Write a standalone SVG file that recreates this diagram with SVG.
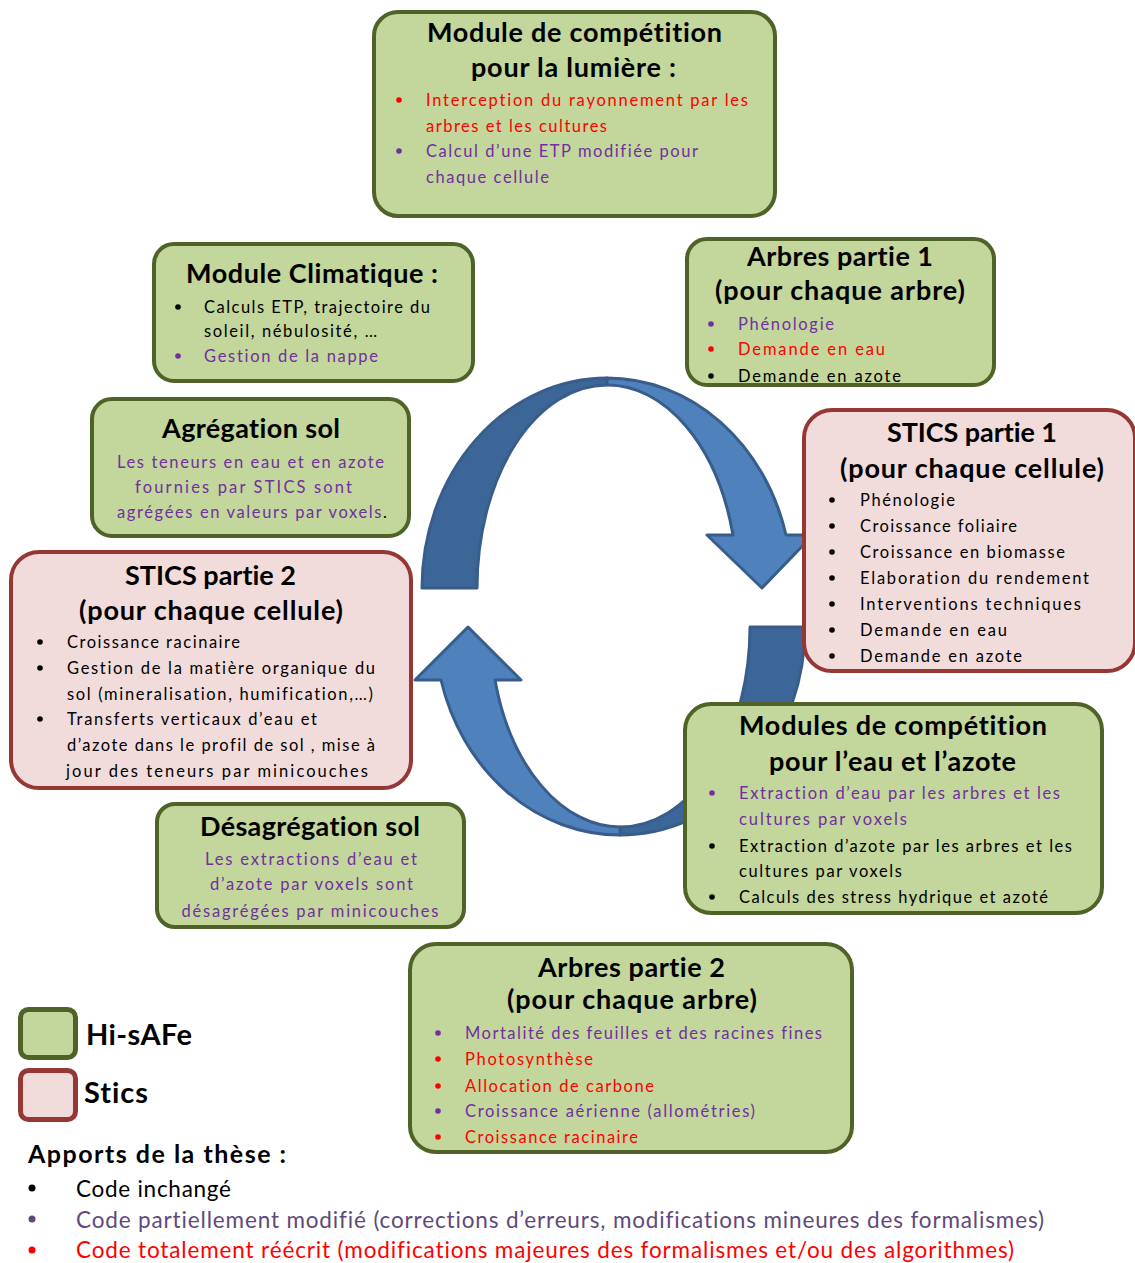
<svg xmlns="http://www.w3.org/2000/svg" width="1135" height="1263" viewBox="0 0 1135 1263">
<style>
text{font-variant-ligatures:none}
.g{fill:#c3d69b;stroke:#4f6228;stroke-width:4}
.s{fill:#f2dcdb;stroke:#953735;stroke-width:4}
.t{font-family:Lato,"Open Sans",sans-serif;font-weight:bold;font-size:27px;fill:#000;text-anchor:middle}
.b{font-family:Lato,"Open Sans",sans-serif;font-size:16.5px}
.c{text-anchor:middle}
.k{fill:#000}.p{fill:#7030a0}.r{fill:#ff0000}.q{fill:#5f497a}
.dk{fill:#3d6698;stroke:#385d8a;stroke-width:3;stroke-linejoin:round}
.lt{fill:#4f81bd;stroke:#385d8a;stroke-width:3;stroke-linejoin:round}
.L{font-family:Lato,"Open Sans",sans-serif;font-weight:bold;font-size:29px;fill:#000}
.A{font-family:Lato,"Open Sans",sans-serif;font-weight:bold;font-size:25px;fill:#000}
.Z{font-family:Lato,"Open Sans",sans-serif;font-size:22.5px}
</style>
<g id="connectors">
<path class="dk" d="M422,588 A185,210 0 0 1 607,378 L607,385 A130,203 0 0 0 477,588 Z"/>
<path class="lt" d="M607,378 A185,210 0 0 1 786,535 L813,535 L762,588 L707,535 L733,535 A130,203 0 0 0 607,385 Z"/>
<path class="dk" d="M805,627 A185,208 0 0 1 620,835 L620,827 A130,200 0 0 0 750,627 Z"/>
<path class="lt" d="M620,835 A185,208 0 0 1 441,680 L415,680 L468,627 L521,680 L495,680 A130,200 0 0 0 620,827 Z"/>
</g>
<g id="lumiere">
<rect class="g" x="374" y="12" width="401" height="204" rx="24"/>
<text class="t" x="574.5" y="42" textLength="295">Module de compétition</text>
<text class="t" x="573.5" y="77" textLength="205">pour la lumière :</text>
<circle class="r" cx="399" cy="100" r="2.8"/><circle class="p" cx="399" cy="151" r="2.8"/>
<text class="b r" x="426" y="106" textLength="322">Interception du rayonnement par les</text>
<text class="b r" x="426" y="132" textLength="181">arbres et les cultures</text>
<text class="b p" x="426" y="157" textLength="272">Calcul d’une ETP modifiée pour</text>
<text class="b p" x="426" y="183" textLength="123">chaque cellule</text>
</g>
<g id="climatique">
<rect class="g" x="154" y="244" width="319" height="137" rx="20"/>
<text class="t" x="312" y="283" textLength="252">Module Climatique :</text>
<circle class="k" cx="178" cy="307" r="2.8"/><circle class="p" cx="178" cy="356" r="2.8"/>
<text class="b k" x="204" y="313" textLength="226">Calculs ETP, trajectoire du</text>
<text class="b k" x="204" y="337" textLength="173">soleil, nébulosité, …</text>
<text class="b p" x="204" y="362" textLength="174">Gestion de la nappe</text>
</g>
<g id="arbres1">
<rect class="g" x="687" y="239" width="307" height="146" rx="20"/>
<text class="t" x="840" y="266" textLength="186">Arbres partie 1</text>
<text class="t" x="840" y="300" textLength="250">(pour chaque arbre)</text>
<circle class="p" cx="711" cy="324" r="2.8"/><circle class="r" cx="711" cy="349" r="2.8"/><circle class="k" cx="711" cy="376" r="2.8"/>
<text class="b p" x="738" y="330" textLength="96">Phénologie</text>
<text class="b r" x="738" y="355" textLength="147">Demande en eau</text>
<text class="b k" x="738" y="382" textLength="163">Demande en azote</text>
</g>
<g id="agregation">
<rect class="g" x="92" y="399" width="317" height="137" rx="20"/>
<text class="t" x="251" y="438" textLength="178">Agrégation sol</text>
<text class="b p c" x="250.5" y="468" textLength="267">Les teneurs en eau et en azote</text>
<text class="b p c" x="243.5" y="493" textLength="217">fournies par STICS sont</text>
<text class="b p c" x="252" y="518" textLength="270">agrégées en valeurs par voxels<tspan class="k">.</tspan></text>
</g>
<g id="stics1">
<rect class="s" x="804" y="410" width="331" height="261" rx="28"/>
<text class="t" x="972" y="442" textLength="170">STICS partie 1</text>
<text class="t" x="972" y="478" textLength="264">(pour chaque cellule)</text>
<g class="k">
<circle cx="832" cy="500" r="2.8"/><circle cx="832" cy="526" r="2.8"/><circle cx="832" cy="552" r="2.8"/><circle cx="832" cy="578" r="2.8"/><circle cx="832" cy="604" r="2.8"/><circle cx="832" cy="630" r="2.8"/><circle cx="832" cy="656" r="2.8"/>
</g>
<text class="b k" x="860" y="506" textLength="95">Phénologie</text>
<text class="b k" x="860" y="532" textLength="157">Croissance foliaire</text>
<text class="b k" x="860" y="558" textLength="205">Croissance en biomasse</text>
<text class="b k" x="860" y="584" textLength="229">Elaboration du rendement</text>
<text class="b k" x="860" y="610" textLength="221">Interventions techniques</text>
<text class="b k" x="860" y="636" textLength="147">Demande en eau</text>
<text class="b k" x="860" y="662" textLength="162">Demande en azote</text>
</g>
<g id="stics2">
<rect class="s" x="11" y="552" width="400" height="236" rx="28"/>
<text class="t" x="210.5" y="585" textLength="171">STICS partie 2</text>
<text class="t" x="211" y="620" textLength="264">(pour chaque cellule)</text>
<circle class="k" cx="40" cy="642" r="2.8"/><circle class="k" cx="40" cy="668" r="2.8"/><circle class="k" cx="40" cy="719" r="2.8"/>
<text class="b k" x="67" y="648" textLength="173">Croissance racinaire</text>
<text class="b k" x="67" y="674" textLength="308">Gestion de la matière organique du</text>
<text class="b k" x="67" y="700" textLength="306">sol (mineralisation, humification,…)</text>
<text class="b k" x="67" y="725" textLength="250">Transferts verticaux d’eau et</text>
<text class="b k" x="67" y="751" textLength="308">d’azote dans le profil de sol , mise à</text>
<text class="b k" x="66" y="777" textLength="302">jour des teneurs par minicouches</text>
</g>
<g id="eau-azote">
<rect class="g" x="685" y="704" width="417" height="209" rx="26"/>
<text class="t" x="893" y="735" textLength="308">Modules de compétition</text>
<text class="t" x="892.5" y="771" textLength="247">pour l’eau et l’azote</text>
<circle class="p" cx="712" cy="793" r="2.8"/><circle class="k" cx="712" cy="846" r="2.8"/><circle class="k" cx="712" cy="897" r="2.8"/>
<text class="b p" x="739" y="799" textLength="321">Extraction d’eau par les arbres et les</text>
<text class="b p" x="739" y="825" textLength="168">cultures par voxels</text>
<text class="b k" x="739" y="852" textLength="333">Extraction d’azote par les arbres et les</text>
<text class="b k" x="739" y="877" textLength="163">cultures par voxels</text>
<text class="b k" x="739" y="903" textLength="309">Calculs des stress hydrique et azoté</text>
</g>
<g id="desagregation">
<rect class="g" x="157" y="804" width="307" height="123" rx="18"/>
<text class="t" x="310" y="836" textLength="220">Désagrégation sol</text>
<text class="b p c" x="311" y="865" textLength="212">Les extractions d’eau et</text>
<text class="b p c" x="311.5" y="890" textLength="203">d’azote par voxels sont</text>
<text class="b p c" x="310" y="917" textLength="257">désagrégées par minicouches</text>
</g>
<g id="arbres2">
<rect class="g" x="410" y="944" width="442" height="208" rx="26"/>
<text class="t" x="631.5" y="977" textLength="187">Arbres partie 2</text>
<text class="t" x="632" y="1009" textLength="250">(pour chaque arbre)</text>
<circle class="p" cx="438" cy="1033" r="2.8"/><circle class="r" cx="438" cy="1059" r="2.8"/><circle class="r" cx="438" cy="1086" r="2.8"/><circle class="p" cx="438" cy="1111" r="2.8"/><circle class="r" cx="438" cy="1137" r="2.8"/>
<text class="b p" x="465" y="1039" textLength="357">Mortalité des feuilles et des racines fines</text>
<text class="b r" x="465" y="1065" textLength="128">Photosynthèse</text>
<text class="b r" x="465" y="1092" textLength="189">Allocation de carbone</text>
<text class="b p" x="465" y="1117" textLength="290">Croissance aérienne (allométries)</text>
<text class="b r" x="465" y="1143" textLength="173">Croissance racinaire</text>
</g>
<g id="legend">
<rect x="20.5" y="1009.5" width="55" height="48" rx="8" fill="#c3d69b" stroke="#4f6228" stroke-width="5"/>
<text class="L" x="86" y="1045" textLength="106">Hi-sAFe</text>
<rect x="20.5" y="1070.5" width="55" height="49" rx="8" fill="#f2dcdb" stroke="#953735" stroke-width="5"/>
<text class="L" x="84" y="1103" textLength="64">Stics</text>
<text class="A" x="28" y="1163" textLength="258">Apports de la thèse :</text>
<circle class="k" cx="32" cy="1188" r="3.5"/><circle class="q" cx="32" cy="1219" r="3.5"/><circle class="r" cx="32" cy="1250" r="3.5"/>
<text class="Z k" x="76" y="1197" textLength="155">Code inchangé</text>
<text class="Z q" x="76" y="1228" textLength="968">Code partiellement modifié (corrections d’erreurs, modifications mineures des formalismes)</text>
<text class="Z r" x="76" y="1258" textLength="938">Code totalement réécrit (modifications majeures des formalismes et/ou des algorithmes)</text>
</g>
</svg>
